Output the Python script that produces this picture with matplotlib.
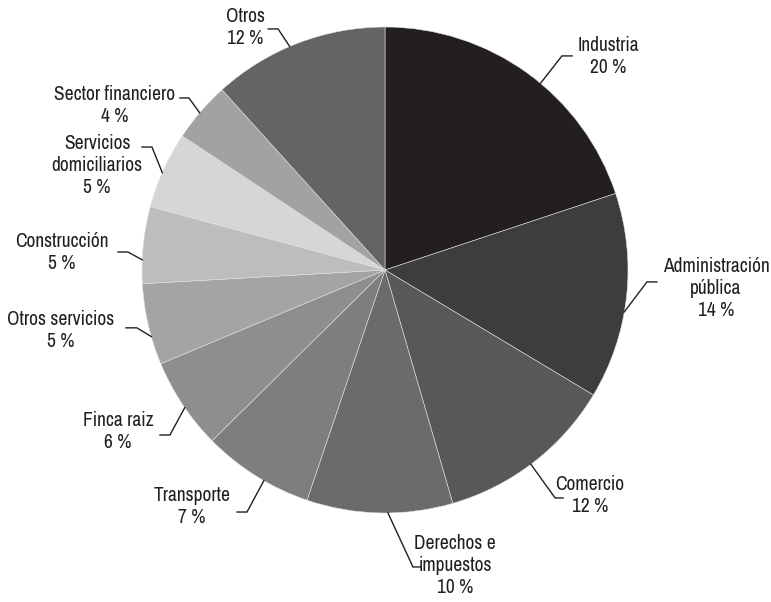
import numpy as np
import matplotlib.pyplot as plt
from matplotlib import font_manager

# sector shares (percent), clockwise from 12 o'clock
sectors = ['Industria', 'Administración\npública', 'Comercio', 'Derechos e\nimpuestos',
           'Transporte', 'Finca raiz', 'Otros servicios', 'Construcción',
           'Servicios\ndomiciliarios', 'Sector financiero', 'Otros']
shares = [19.9, 13.7, 11.9, 9.7, 7.4, 6.1, 5.4, 5.1, 5.1, 4.0, 11.7]
colors = ['#231f20', '#3d3d3e', '#58585a', '#6b6b6d', '#7d7e80', '#8d8e90',
          '#a3a4a6', '#bcbdbf', '#d5d6d7', '#a1a2a4', '#636466']

# label layout (pie radius = 1): leader start angle, elbow, line end, text centre
lead_angle = [50.2, -9.9, -53.1, -89.3, 240.1, 214.5, 195.9, 177.6, 156.4, 139.7, 113.1]
elbow = [(0.728, 0.881), (1.078, -0.049), (0.700, -0.938), (0.115, -1.222),
         (-0.568, -0.996), (-0.885, -0.679), (-1.021, -0.238), (-1.058, 0.074),
         (-0.959, 0.506), (-0.807, 0.708), (-0.440, 0.992)]
line_end = [0.770, 1.119, 0.733, 0.148, -0.609, -0.926, -1.066, -1.099, -1.000, -0.844, -0.481]
text_pos = [(0.918, 0.877), (1.362, -0.078), (0.844, -0.926), (0.288, -1.218),
            (-0.794, -0.975), (-1.099, -0.663), (-1.333, -0.251), (-1.329, 0.070),
            (-1.185, 0.428), (-1.111, 0.679), (-0.576, 1.000)]


def is_regular(f):
    return f.weight in (400, 'normal', 'regular', 'book') and f.style == 'normal'


# look for a narrow regular sans, the reference uses a condensed grotesque
fonts = font_manager.fontManager.ttflist
narrow = None
for key in ('narrow', 'condensed'):
    for f in fonts:
        if is_regular(f) and (key in f.name.lower() or key in str(f.stretch).lower()):
            narrow = f
            break
    if narrow is not None:
        break
if narrow is not None:
    fp = font_manager.FontProperties(fname=narrow.fname, size=14)
else:
    fp = font_manager.FontProperties(family='Roboto', size=11.5)

fig = plt.figure(figsize=(7.71, 6.02), dpi=100)
ax = fig.add_axes([0, 0, 1, 1])

ax.pie(shares, colors=colors, startangle=90, counterclock=False, radius=1,
       wedgeprops=dict(edgecolor='#e0e0e0', linewidth=0.4))

for i, name in enumerate(sectors):
    a = np.radians(lead_angle[i])
    ex, ey = elbow[i]
    ax.plot([np.cos(a), ex, line_end[i]], [np.sin(a), ey, ey],
            color='#231f20', lw=1.0, solid_joinstyle='miter')
    tx, ty = text_pos[i]
    ax.text(tx, ty, f'{name}\n{round(shares[i]):.0f} %', ha='center', va='center',
            multialignment='center', color='#231f20', linespacing=1.2,
            fontproperties=fp)

ax.set_xlim(-385 / 243, 386 / 243)
ax.set_ylim(-332 / 243, 270 / 243)
ax.set_aspect('equal')
ax.axis('off')

fig.savefig('out.png', dpi=100)
